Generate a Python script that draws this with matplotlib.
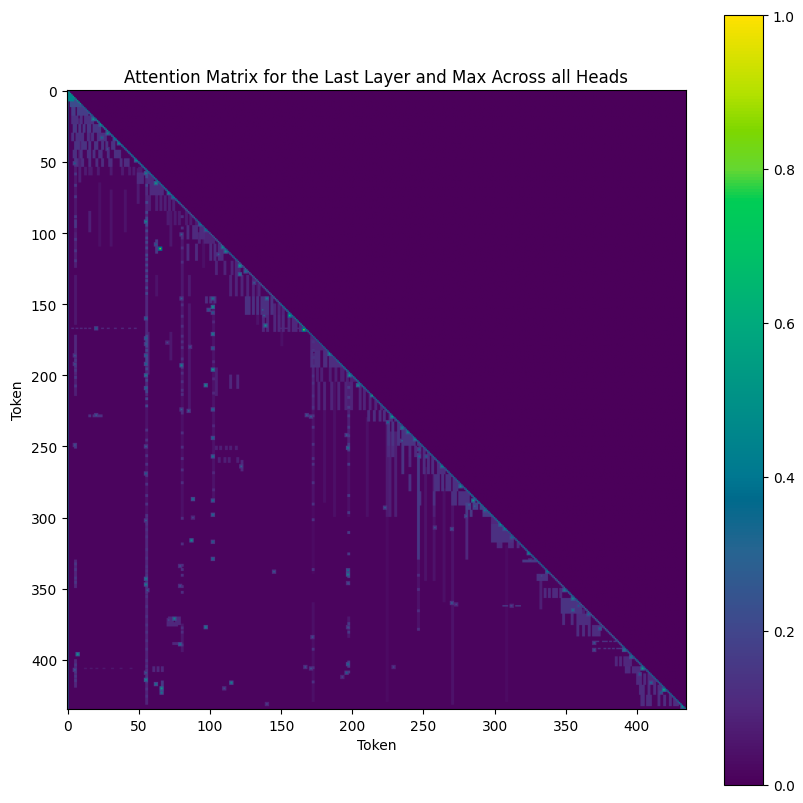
import numpy as np
import matplotlib
matplotlib.use('Agg')
import matplotlib.pyplot as plt
from matplotlib.colors import LinearSegmentedColormap

n_tokens = 435

# colormap
cmap_pos = [0.0, 0.1, 0.2, 0.3, 0.37, 0.4, 0.5, 0.6, 0.7, 0.76, 0.8, 0.85, 0.9, 1.0]
cmap_col = ['#4b005a', '#50287d', '#41468c', '#286491', '#006a8c', '#007891', '#009187',
            '#00aa7d', '#00c364', '#00cd55', '#64d732', '#7dd700', '#b4e100', '#ffe100']

# diagonal level, one reading per 10 tokens
diag_vals = [.5, .35, .45, .4, .4, .4, .4, .4, .3, .35, .3, .35, .3, .3, .3, .4, .45, .35, .35, .4,
             .4, .35, .35, .35, .35, .35, .35, .35, .4, .4, .4, .35, .35, .35, .3, .35, .3, .3, .3,
             .35, .35, .35, .35, .4]
# cells next to the diagonal, one reading per 10 tokens
sub1_vals = [.25, .18, .2, .18, .15, .18, .15, .15, .12, .12, .1, .12, .12, .1, .12, .15, .12, .08, .12, .15,
             .15, .12, .15, .15, .15, .15, .15, .15, .15, .18, .15, .12, .15, .12, .1, .18, .12, .12, .12,
             .15, .15, .15, .15, .18]

# vertical streaks
streak_col = [5, 5, 5, 5, 5, 5, 5, 8, 15, 15, 55, 55, 55, 55, 55, 56, 49, 62, 62, 66, 72, 72,
              80, 80, 80, 85, 85, 102, 104, 114, 119, 122, 172, 172, 172, 172, 197, 197, 197,
              224, 224, 226, 230, 246, 246, 235, 240, 257, 257, 270, 280, 308, 332, 362, 210, 251, 264,
              187, 180, 40, 30, 22, 95, 133, 150]
streak_r0 = [60, 100, 130, 172, 200, 330, 400, 20, 30, 85, 60, 145, 215, 300, 350, 170, 55, 105, 130, 415, 85, 170,
             100, 215, 375, 130, 150, 145, 195, 200, 200, 260, 185, 215, 290, 360, 205, 250, 370,
             235, 300, 240, 240, 255, 330, 240, 240, 270, 300, 290, 295, 320, 345, 365, 230, 265, 280,
             205, 210, 70, 70, 65, 105, 130, 140]
streak_r1 = [100, 125, 165, 200, 215, 350, 420, 65, 60, 100, 145, 215, 300, 350, 432, 200, 80, 115, 145, 425, 110, 190,
             215, 300, 395, 145, 225, 290, 215, 210, 210, 268, 215, 290, 340, 430, 250, 300, 385,
             300, 430, 300, 300, 330, 380, 270, 265, 300, 345, 432, 330, 430, 365, 380, 300, 345, 360,
             300, 290, 100, 110, 110, 125, 165, 180]
streak_val = [.06, .08, .06, .1, .08, .1, .1, .08, .07, .08, .09, .1, .05, .1, .09, .08, .07, .16, .05, .16, .06, .06,
              .06, .04, .06, .07, .06, .05, .08, .1, .1, .1, .09, .05, .03, .04, .08, .04, .06,
              .07, .03, .08, .08, .16, .05, .14, .1, .08, .05, .05, .1, .03, .08, .08, .04, .05, .04,
              .04, .04, .05, .05, .04, .04, .05, .04]

# dotted clouds: a row span, a level and the columns that are lit in it
cloud_r0 = [0, 5, 12, 18, 24, 30, 36, 42, 48, 54, 58, 66, 74, 85, 95, 100, 108, 120, 130,
            145, 150, 158, 167, 170, 175, 183, 195, 205, 225, 233, 250, 258, 270, 282,
            290, 295, 300, 305, 318, 330, 340, 350, 357, 368, 376, 387, 392, 398, 405, 410, 418, 425,
            362, 406, 405, 370, 374, 388, 145, 228, 250, 258]
cloud_r1 = [8, 12, 18, 24, 30, 36, 42, 48, 54, 60, 66, 74, 85, 95, 105, 108, 120, 130, 145,
            158, 158, 170, 168, 175, 183, 195, 205, 225, 233, 250, 258, 270, 282, 292,
            295, 300, 305, 318, 322, 332, 345, 357, 368, 376, 384, 388, 393, 405, 410, 418, 425, 433,
            363, 407, 409, 376, 377, 390, 150, 230, 253, 262]
cloud_val = [.45, .22, .17, .13, .15, .13, .14, .13, .12, .07, .11, .11, .08, .07, .11, .09, .11, .09, .09,
             .13, .09, .1, .1, .09, .1, .12, .08, .09, .12, .14, .11, .12, .13, .13,
             .18, .16, .1, .13, .11, .16, .13, .11, .14, .12, .12, .14, .14, .1, .11, .11, .12, .12,
             .16, .06, .1, .1, .1, .1, .12, .13, .08, .08]
cloud_cols = [[0, 1, 2, 3],
              [2, 3, 5, 6, 8],
              [3, 4, 7, 8, 10, 11, 13],
              [3, 4, 6, 9, 12, 13, 15, 17],
              [4, 5, 8, 11, 14, 15, 18, 20, 22],
              [3, 6, 8, 10, 14, 17, 21, 23, 25, 26],
              [5, 7, 10, 12, 15, 19, 20, 24, 27, 31, 32],
              [4, 5, 9, 14, 15, 18, 22, 23, 28, 33, 34, 36],
              [5, 6, 10, 15, 20, 24, 29, 30, 37, 40, 42],
              [5, 8, 12, 16, 21, 30, 38, 43, 46, 50, 51],
              [49, 50, 52, 56, 57, 59],
              [55, 58, 60, 62, 64, 66],
              [55, 57, 62, 65, 68, 71, 74],
              [70, 75, 78, 83, 86, 90],
              [84, 88, 90, 93, 95],
              [92, 96, 98, 100, 102],
              [84, 90, 100, 103, 106, 108],
              [104, 110, 115, 118, 120],
              [114, 118, 122, 126, 130, 134],
              [125, 127, 130, 133, 136, 138, 140, 143],
              [130, 137, 145, 148, 151, 155],
              [137, 140, 145, 148, 151, 155, 158, 160, 163, 165],
              [3, 6, 9, 12, 15, 19, 24, 28, 33, 38, 43, 47, 150, 153, 158, 161],
              [171, 172, 174],
              [171, 172, 174, 176, 178, 180],
              [171, 174, 176, 180, 181, 184, 186, 188, 190, 192],
              [172, 175, 178, 184, 188, 192, 196, 199, 201, 193],
              [172, 176, 180, 185, 190, 195, 199, 205, 208, 212, 216, 220],
              [211, 215, 219, 222, 226, 227, 230],
              [225, 228, 232, 235, 237, 239, 241, 243, 246],
              [225, 228, 235, 240, 244, 247, 250, 253],
              [235, 246, 250, 253, 256, 260, 262, 264],
              [240, 246, 258, 260, 263, 266, 268, 271, 273],
              [247, 257, 270, 272, 275, 277, 279, 281],
              [280, 282, 285, 287, 290, 292],
              [280, 283, 292, 293, 295, 297],
              [298, 300, 301, 303, 305],
              [298, 300, 302, 304, 306, 308, 310, 312],
              [302, 304, 310, 312, 316],
              [320, 322, 323, 325, 327, 329],
              [330, 332, 333, 335, 336],
              [335, 338, 341, 343, 346],
              [347, 349, 351, 353, 354, 356, 358, 360],
              [348, 354, 358, 360, 362, 364, 366],
              [358, 362, 366, 369, 371, 373],
              [369, 372, 376, 378, 381, 384],
              [370, 373, 377, 380, 383, 386, 388],
              [385, 388, 391, 393, 395],
              [392, 394, 397, 399, 401],
              [400, 402, 405, 408, 410, 412],
              [402, 404, 408, 412, 415, 417],
              [403, 404, 407, 409, 415, 419, 423, 426, 428],
              [306, 308, 311, 315, 317],
              [12, 16, 20, 25, 31, 37, 44],
              [60, 63, 66],
              [71, 73, 76, 78],
              [70, 72, 74, 76],
              [74, 76, 78],
              [97, 100, 103],
              [15, 18, 21, 23],
              [104, 107, 111, 114, 118],
              [106, 110, 113, 119]]

# broken-up parts of the strongest vertical lines: column, level and the rows lit
dash_col = [55, 55, 80, 102, 5, 172, 197, 246]
dash_val = [.2, .13, .12, .1, .15, .13, .16, .12]
dash_rows = [[52, 60, 66, 78, 85, 89, 90, 91, 92, 93, 94, 98, 103, 106, 110, 115, 118, 122, 126, 130, 133, 138, 142,
              172, 173, 175, 176, 177, 179, 182, 186, 188, 190, 192, 195, 200, 203, 208, 211, 216, 221],
             [238, 245, 250, 256, 262, 268, 270, 276, 284, 290, 298, 303, 304, 308, 313, 322, 328, 334, 337, 340, 342,
              344, 345, 348, 350, 352, 355, 362, 369, 375, 380, 386, 392, 400, 404, 407, 410, 412, 415, 420, 425],
             [88, 96, 103, 110, 120, 146, 150, 158, 165, 172, 176, 180, 188, 194, 198, 204, 210, 213, 226, 240, 250,
              258, 266, 275, 300, 318, 333, 336, 340, 348, 352, 377, 380, 389],
             [146, 151, 152, 156, 162, 170, 171, 181, 190, 196, 202, 212, 224, 235, 244, 256, 268, 280, 287, 297, 317, 329],
             [48, 51, 58, 66, 74, 88, 91, 93, 95, 104, 112, 119, 186, 189, 192, 193, 196, 201, 207, 248, 250,
              332, 336, 342, 345, 403, 406, 408, 411, 414],
             [176, 182, 187, 193, 200, 205, 214, 222, 228, 236, 248, 258, 262, 275, 290, 301, 336, 383, 392, 405, 415],
             [208, 215, 222, 228, 236, 242, 248, 252, 262, 284, 296, 310, 325, 336, 337, 340, 341, 346, 374, 377, 380, 401, 404, 408],
             [262, 270, 278, 286, 291, 296, 300, 308, 314, 318, 324, 328, 340, 350, 365, 378]]

# single bright cells
spot_row = [20, 24, 30, 33, 34, 37, 41, 49, 51, 58, 65, 72, 75, 92, 111, 108, 101, 94, 98, 110, 113, 115, 123, 129, 127, 135,
            146, 152, 154, 146, 146, 165, 154, 158, 156, 160, 167, 171, 174, 178, 181, 186, 192, 186, 192, 193, 196, 200, 207, 209,
            224, 228, 224, 225, 244, 250, 249, 257, 264, 269, 287, 288, 180, 177,
            298, 302, 316, 317, 329, 343, 347, 351, 348, 334, 371, 372, 377, 389, 396, 414, 416, 420, 417, 423, 407, 409, 420, 300, 431,
            158, 168, 185, 200, 207, 214, 229, 237, 240, 245, 252, 264, 278, 288, 251, 242, 228, 229, 233, 246, 257, 257,
            337, 340, 346, 338, 293, 360, 361, 377, 384, 403, 409, 405, 406, 405, 291, 299, 292, 307, 308, 412,
            295, 305, 308, 314, 325, 338, 351, 357, 365, 362, 368, 378, 393, 398, 406, 410, 421, 423, 416, 433, 388, 393, 362, 330, 341]
spot_col = [18, 23, 28, 24, 33, 36, 28, 48, 5, 55, 62, 71, 74, 55, 65, 62, 80, 93, 97, 109, 111, 106, 121, 121, 125, 131,
            102, 102, 99, 80, 140, 139, 137, 138, 102, 55, 20, 102, 55, 55, 102, 55, 55, 5, 5, 80, 102, 55, 97, 55,
            102, 20, 80, 85, 102, 55, 5, 102, 122, 55, 88, 102, 86, 70,
            102, 55, 87, 102, 102, 55, 55, 56, 79, 79, 75, 71, 97, 79, 7, 55, 115, 66, 62, 66, 5, 55, 110, 88, 140,
            156, 166, 184, 198, 204, 214, 228, 235, 239, 244, 247, 263, 276, 285, 197, 196, 168, 171, 225, 235, 247, 252,
            197, 197, 197, 145, 223, 270, 273, 197, 172, 197, 196, 167, 171, 229, 282, 280, 286, 258, 270, 193,
            293, 304, 307, 312, 324, 337, 349, 355, 355, 359, 366, 374, 391, 396, 404, 402, 419, 417, 410, 432, 370, 370, 312, 325, 333]
spot_val = [.6, .5, .5, .4, .4, .5, .25, .5, .35, .5, .6, .5, .4, .55, .85, .35, .3, .4, .4, .55, .55, .3, .65, .5, .45, .3,
            .45, .6, .35, .3, .5, .55, .3, .3, .35, .4, .35, .5, .4, .3, .35, .4, .4, .25, .25, .5, .6, .5, .55, .4,
            .4, .3, .3, .3, .4, .3, .25, .45, .3, .35, .45, .4, .25, .2,
            .4, .3, .55, .35, .4, .5, .5, .3, .25, .25, .5, .2, .5, .45, .6, .55, .5, .6, .45, .45, .3, .3, .25, .2, .2,
            .75, .85, .55, .6, .55, .6, .6, .5, .5, .5, .35, .5, .55, .6, .45, .3, .3, .3, .4, .3, .4, .35,
            .4, .5, .25, .3, .3, .3, .2, .25, .25, .4, .35, .25, .25, .2, .3, .3, .3, .25, .3, .2,
            .45, .5, .45, .4, .5, .4, .5, .55, .45, .35, .4, .4, .5, .45, .65, .35, .7, .35, .4, .5, .3, .3, .2, .2, .2]

matrix = np.zeros((n_tokens, n_tokens))
for i in range(n_tokens):
    matrix[i, :i + 1] = 0.015
    matrix[i, 0] = 0.45

# streaks are about two cells wide in the picture
for c, r0, r1, v in zip(streak_col, streak_r0, streak_r1, streak_val):
    matrix[r0:r1, c:c + 2] = np.maximum(matrix[r0:r1, c:c + 2], v)

for r0, r1, v, cols in zip(cloud_r0, cloud_r1, cloud_val, cloud_cols):
    for c in cols:
        matrix[r0:r1, c:c + 2] = np.maximum(matrix[r0:r1, c:c + 2], v)

for c, v, rows in zip(dash_col, dash_val, dash_rows):
    for r in rows:
        matrix[r:r + 2, c:c + 2] = np.maximum(matrix[r:r + 2, c:c + 2], v)

for i in range(n_tokens):
    k = i // 10
    matrix[i, i] = diag_vals[k]
    if i >= 1:
        matrix[i, i - 1] = max(matrix[i, i - 1], sub1_vals[k])

# a bright cell bleeds into its neighbours
for r, c, v in zip(spot_row, spot_col, spot_val):
    r0, r1 = max(r - 1, 0), min(r + 2, n_tokens)
    matrix[r0:r1, c - 1:c + 2] = np.maximum(matrix[r0:r1, c - 1:c + 2], 0.45 * v)
    matrix[r, c] = v

# nothing above the diagonal
matrix[np.triu_indices(n_tokens, 1)] = 0

cmap = LinearSegmentedColormap.from_list('attn', list(zip(cmap_pos, cmap_col)))

fig = plt.figure(figsize=(8.04, 8.04), dpi=100)
ax = fig.add_axes([67 / 804, 1 - 710 / 804, 619 / 804, 619 / 804])
im = ax.imshow(matrix, cmap=cmap, vmin=0, vmax=1, aspect='equal')
ax.set_title('Attention Matrix for the Last Layer and Max Across all Heads')
ax.set_xlabel('Token')
ax.set_ylabel('Token')

cax = fig.add_axes([724 / 804, 1 - 786 / 804, 39 / 804, 770 / 804])
fig.colorbar(im, cax=cax)

fig.savefig('out.png', dpi=100)
